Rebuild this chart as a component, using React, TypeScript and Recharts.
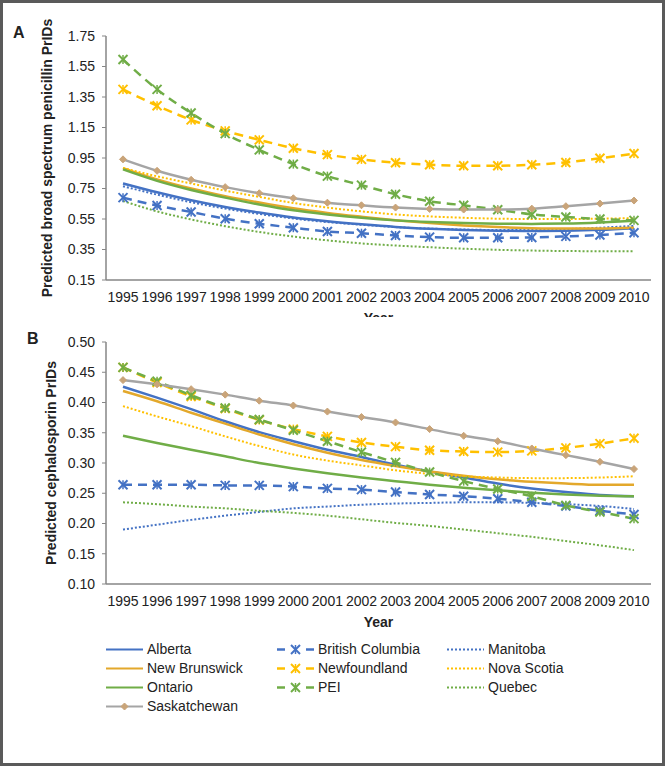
import React from "react";
import { LineChart, Line, XAxis, YAxis, ReferenceArea } from "recharts";

const FONT = "'Liberation Sans', Arial, sans-serif";
const TEXT = "#222";
const AXIS = "#868686";

const BLUE = "#4472C4";
const GOLD = "#FFC000";
const DARKGOLD = "#E3A82B";
const GREEN = "#70AD47";
const GRAY = "#A5A5A5";
const TAN = "#C9A479";

const years = ["1995", "1996", "1997", "1998", "1999", "2000", "2001", "2002", "2003", "2004", "2005", "2006", "2007", "2008", "2009", "2010"];
// category boundaries for the small tick marks under the x axis
const edgeTicks = [0, 1, 2, 3, 4, 5, 6, 7, 8, 9, 10, 11, 12, 13, 14, 15, 16];

const penTicks = [0.15, 0.35, 0.55, 0.75, 0.95, 1.15, 1.35, 1.55, 1.75];
const cephTicks = [0.1, 0.15, 0.2, 0.25, 0.3, 0.35, 0.4, 0.45, 0.5];

// A: broad spectrum penicillin
const penAlberta = [0.783, 0.725, 0.673, 0.629, 0.592, 0.56, 0.535, 0.515, 0.498, 0.486, 0.478, 0.473, 0.471, 0.473, 0.479, 0.49];
const penBC = [0.69, 0.638, 0.596, 0.552, 0.519, 0.493, 0.468, 0.457, 0.442, 0.431, 0.427, 0.427, 0.429, 0.436, 0.445, 0.46];
const penManitoba = [0.765, 0.71, 0.66, 0.618, 0.583, 0.553, 0.53, 0.512, 0.497, 0.487, 0.481, 0.478, 0.479, 0.484, 0.493, 0.505];
const penNB = [0.884, 0.81, 0.75, 0.7, 0.658, 0.62, 0.59, 0.565, 0.542, 0.523, 0.508, 0.497, 0.49, 0.487, 0.488, 0.493];
const penNF = [1.4, 1.293, 1.2, 1.128, 1.069, 1.014, 0.972, 0.941, 0.919, 0.906, 0.899, 0.899, 0.906, 0.921, 0.948, 0.979];
const penNS = [0.884, 0.83, 0.783, 0.736, 0.695, 0.655, 0.625, 0.6, 0.58, 0.567, 0.558, 0.552, 0.55, 0.55, 0.552, 0.556];
const penOntario = [0.875, 0.8, 0.74, 0.69, 0.645, 0.607, 0.58, 0.558, 0.541, 0.53, 0.523, 0.519, 0.518, 0.52, 0.527, 0.538];
const penPEI = [1.596, 1.4, 1.245, 1.11, 1.003, 0.91, 0.831, 0.772, 0.712, 0.666, 0.64, 0.611, 0.58, 0.563, 0.55, 0.541];
const penQuebec = [0.668, 0.6, 0.547, 0.503, 0.465, 0.435, 0.41, 0.39, 0.376, 0.365, 0.355, 0.348, 0.343, 0.34, 0.339, 0.339];
const penSask = [0.941, 0.866, 0.807, 0.759, 0.719, 0.686, 0.657, 0.64, 0.625, 0.616, 0.612, 0.612, 0.618, 0.634, 0.651, 0.671];

// B: cephalosporin
const cephAlberta = [0.426, 0.408, 0.389, 0.369, 0.351, 0.336, 0.322, 0.31, 0.297, 0.286, 0.276, 0.266, 0.258, 0.252, 0.247, 0.245];
const cephBC = [0.264, 0.264, 0.264, 0.263, 0.263, 0.261, 0.258, 0.256, 0.252, 0.248, 0.245, 0.241, 0.235, 0.229, 0.221, 0.215];
const cephManitoba = [0.19, 0.198, 0.206, 0.213, 0.219, 0.225, 0.228, 0.231, 0.233, 0.234, 0.235, 0.235, 0.234, 0.232, 0.229, 0.224];
const cephNB = [0.419, 0.402, 0.383, 0.365, 0.347, 0.331, 0.317, 0.305, 0.295, 0.286, 0.279, 0.273, 0.269, 0.266, 0.264, 0.264];
const cephNF = [0.458, 0.433, 0.41, 0.39, 0.371, 0.356, 0.344, 0.334, 0.327, 0.321, 0.319, 0.318, 0.32, 0.325, 0.332, 0.341];
const cephNS = [0.394, 0.377, 0.361, 0.344, 0.328, 0.314, 0.304, 0.296, 0.288, 0.282, 0.278, 0.276, 0.275, 0.275, 0.276, 0.278];
const cephOntario = [0.345, 0.333, 0.322, 0.311, 0.3, 0.291, 0.283, 0.276, 0.27, 0.264, 0.259, 0.255, 0.251, 0.248, 0.246, 0.245];
const cephPEI = [0.458, 0.435, 0.412, 0.391, 0.372, 0.354, 0.336, 0.318, 0.301, 0.285, 0.27, 0.257, 0.245, 0.23, 0.219, 0.208];
const cephQuebec = [0.235, 0.232, 0.228, 0.225, 0.221, 0.2175, 0.213, 0.207, 0.201, 0.196, 0.19, 0.184, 0.178, 0.171, 0.164, 0.156];
const cephSask = [0.437, 0.43, 0.422, 0.413, 0.403, 0.395, 0.385, 0.376, 0.367, 0.356, 0.345, 0.336, 0.324, 0.313, 0.302, 0.29];

type Style = "solid" | "dashed" | "dotted" | "marker";
const provinces: { name: string; color: string; style: Style; pen: number[]; ceph: number[] }[] = [
  { name: "Alberta", color: BLUE, style: "solid", pen: penAlberta, ceph: cephAlberta },
  { name: "British Columbia", color: BLUE, style: "dashed", pen: penBC, ceph: cephBC },
  { name: "Manitoba", color: BLUE, style: "dotted", pen: penManitoba, ceph: cephManitoba },
  { name: "New Brunswick", color: DARKGOLD, style: "solid", pen: penNB, ceph: cephNB },
  { name: "Newfoundland", color: GOLD, style: "dashed", pen: penNF, ceph: cephNF },
  { name: "Nova Scotia", color: GOLD, style: "dotted", pen: penNS, ceph: cephNS },
  { name: "Ontario", color: GREEN, style: "solid", pen: penOntario, ceph: cephOntario },
  { name: "PEI", color: GREEN, style: "dashed", pen: penPEI, ceph: cephPEI },
  { name: "Quebec", color: GREEN, style: "dotted", pen: penQuebec, ceph: cephQuebec },
  { name: "Saskatchewan", color: GRAY, style: "marker", pen: penSask, ceph: cephSask },
];

const penRows = years.map((year, i) => {
  const row: Record<string, string | number> = { year };
  provinces.forEach((p) => (row[p.name] = p.pen[i]));
  return row;
});
const cephRows = years.map((year, i) => {
  const row: Record<string, string | number> = { year };
  provinces.forEach((p) => (row[p.name] = p.ceph[i]));
  return row;
});

const StarDot = ({ cx, cy, color }: any) => {
  if (cx == null || cy == null) return null;
  const r = 4.5;
  return (
    <g stroke={color} strokeWidth={2}>
      <line x1={cx - r} y1={cy - r} x2={cx + r} y2={cy + r} />
      <line x1={cx - r} y1={cy + r} x2={cx + r} y2={cy - r} />
      <line x1={cx} y1={cy - r} x2={cx} y2={cy + r} strokeWidth={1.5} />
    </g>
  );
};

const DiamondDot = ({ cx, cy }: any) => {
  if (cx == null || cy == null) return null;
  const r = 3.5;
  return <polygon points={`${cx},${cy - r} ${cx + r},${cy} ${cx},${cy + r} ${cx - r},${cy}`} fill={TAN} stroke={TAN} />;
};

const dashFor = (s: Style) => (s === "dashed" ? "9 6" : s === "dotted" ? "2 2" : undefined);

function renderLine(p: (typeof provinces)[number]) {
  let dot: any = false;
  if (p.style === "dashed") dot = (props: any) => <StarDot key={`s-${p.name}-${props.index}`} cx={props.cx} cy={props.cy} color={p.color} />;
  if (p.style === "marker") dot = (props: any) => <DiamondDot key={`d-${p.name}-${props.index}`} cx={props.cx} cy={props.cy} />;
  return (
    <Line
      key={p.name}
      xAxisId={1}
      type="monotone"
      dataKey={p.name}
      stroke={p.color}
      strokeWidth={p.style === "dotted" ? 2 : 2.5}
      strokeDasharray={dashFor(p.style)}
      dot={dot}
      activeDot={false}
      isAnimationActive={false}
    />
  );
}

function Panel({ rows, yTicks, yTitle, titleDx, height, marginTop, axisHeight, yearOffset }: any) {
  return (
    <LineChart width={668} height={height} data={rows} margin={{ top: marginTop, right: 17, bottom: 0, left: 0 }} style={{ fontFamily: FONT }}>
      <ReferenceArea xAxisId={0} x1={0} x2={16} y1={yTicks[0]} y2={yTicks[yTicks.length - 1]} fill="none" stroke="#D9D9D9" strokeWidth={1.5} />
      <XAxis
        xAxisId={0}
        type="number"
        domain={[0, 16]}
        allowDataOverflow
        ticks={edgeTicks}
        height={0}
        tick={false}
        axisLine={false}
        tickLine={{ stroke: AXIS }}
        tickSize={5}
      />
      <XAxis
        xAxisId={1}
        dataKey="year"
        interval={0}
        padding={{ left: 17, right: 17 }}
        height={axisHeight}
        axisLine={{ stroke: AXIS, strokeWidth: 1.5 }}
        tickLine={false}
        tickSize={6}
        tickMargin={6}
        tick={{ fill: TEXT, fontSize: 14 }}
        label={{ value: "Year", position: "insideBottom", offset: yearOffset, fill: TEXT, fontSize: 14, fontWeight: "bold" }}
      />
      <YAxis
        width={106}
        domain={[yTicks[0], yTicks[yTicks.length - 1]]}
        ticks={yTicks}
        interval={0}
        tickFormatter={(v: number) => v.toFixed(2)}
        axisLine={{ stroke: AXIS, strokeWidth: 1.5 }}
        tickLine={{ stroke: AXIS }}
        tickSize={4}
        tickMargin={7}
        tick={{ fill: TEXT, fontSize: 14 }}
        label={{ value: yTitle, angle: -90, position: "center", dx: titleDx, fill: TEXT, fontSize: 14, fontWeight: "bold" }}
      />
      {provinces.map(renderLine)}
    </LineChart>
  );
}

function LegendIcon({ p }: { p: (typeof provinces)[number] }) {
  return (
    <svg width={37} height={19} style={{ display: "block", flex: "none" }}>
      {p.style === "dashed" ? (
        <>
          <line x1={0} y1={9.5} x2={8} y2={9.5} stroke={p.color} strokeWidth={2.5} />
          <line x1={29} y1={9.5} x2={37} y2={9.5} stroke={p.color} strokeWidth={2.5} />
          <StarDot cx={18.5} cy={9.5} color={p.color} />
        </>
      ) : (
        <line x1={0} y1={9.5} x2={37} y2={9.5} stroke={p.color} strokeWidth={2} strokeDasharray={dashFor(p.style)} />
      )}
      {p.style === "marker" && <DiamondDot cx={18.5} cy={9.5} />}
    </svg>
  );
}

export default function App() {
  return (
    <div style={{ position: "absolute", left: 0, top: 0, width: 668, height: 767, background: "#fff", fontFamily: FONT, overflow: "hidden" }}>
      <div style={{ position: "absolute", left: 0, top: 0 }}>
        <Panel
          rows={penRows}
          yTicks={penTicks}
          yTitle="Predicted broad spectrum penicillin PrIDs"
          titleDx={-6}
          height={317}
          marginTop={36}
          axisHeight={37}
          yearOffset={-6}
        />
      </div>
      <div style={{ position: "absolute", left: 0, top: 318 }}>
        <Panel
          rows={cephRows}
          yTicks={cephTicks}
          yTitle="Predicted cephalosporin PrIDs"
          titleDx={-2}
          height={320}
          marginTop={24}
          axisHeight={54}
          yearOffset={11}
        />
      </div>
      <div style={{ position: "absolute", left: 13, top: 25, fontSize: 16, lineHeight: "16px", fontWeight: "bold", color: TEXT }}>A</div>
      <div style={{ position: "absolute", left: 27, top: 331, fontSize: 16, lineHeight: "16px", fontWeight: "bold", color: TEXT }}>B</div>
      <div
        style={{
          position: "absolute",
          left: 106,
          top: 640,
          display: "grid",
          gridTemplateColumns: "171px 170px 170px",
          fontSize: 14,
          lineHeight: "19px",
          color: TEXT,
        }}
      >
        {provinces.map((p) => (
          <div key={p.name} style={{ display: "flex", alignItems: "center", height: 19 }}>
            <LegendIcon p={p} />
            <span style={{ marginLeft: 4, whiteSpace: "nowrap" }}>{p.name}</span>
          </div>
        ))}
      </div>
      <div style={{ position: "absolute", left: 0, top: 0, width: 665, height: 766, border: "3px solid #5A5A5A", boxSizing: "border-box", pointerEvents: "none" }} />
    </div>
  );
}
